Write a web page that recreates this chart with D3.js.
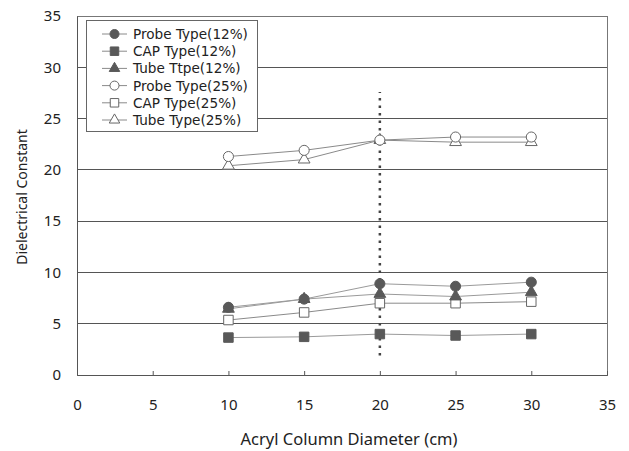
<!DOCTYPE html>
<html>
<head>
<script src="https://d3js.org/d3.v7.min.js"></script>
<style>
  body { margin: 0; background: #fff; }
  text { font-family: "Noto Sans", "DejaVu Sans", sans-serif; fill: #222; }
</style>
</head>
<body>
<div id="chart"></div>
<script>
var diameters = [10, 15, 20, 25, 30];
var seriesNames = ["Probe Type(12%)", "CAP Type(12%)", "Tube Ttpe(12%)",
                   "Probe Type(25%)", "CAP Type(25%)", "Tube Type(25%)"];
var probe12 = [6.6, 7.4, 8.9, 8.65, 9.05];
var cap12   = [3.65, 3.72, 3.99, 3.85, 3.99];
var tube12  = [6.45, 7.4, 7.9, 7.65, 8.07];
var probe25 = [21.3, 21.9, 22.9, 23.2, 23.2];
var cap25   = [5.36, 6.1, 7.0, 7.0, 7.15];
var tube25  = [20.4, 21.0, 22.9, 22.7, 22.7];
var xTicks = [0, 5, 10, 15, 20, 25, 30, 35];
var yTicks = [0, 5, 10, 15, 20, 25, 30, 35];
var markerLine = { x: 20, from: 1.9, to: 27.6 };

var width = 629, height = 451;
var margin = { left: 77, right: 22, top: 16, bottom: 76 };

var svg = d3.select("#chart").append("svg")
  .attr("width", width).attr("height", height);

var x = d3.scaleLinear().domain([0, 35]).range([margin.left, width - margin.right]);
var y = d3.scaleLinear().domain([0, 35]).range([height - margin.bottom, margin.top]);

// gridlines
svg.append("g").selectAll("line").data(yTicks).enter().append("line")
  .attr("x1", x(0)).attr("x2", x(35))
  .attr("y1", function (d) { return y(d); }).attr("y2", function (d) { return y(d); })
  .attr("stroke", "#555").attr("stroke-width", 1)
  .attr("shape-rendering", "crispEdges");

// frame
svg.append("rect")
  .attr("x", x(0)).attr("y", y(35))
  .attr("width", x(35) - x(0)).attr("height", y(0) - y(35))
  .attr("fill", "none").attr("stroke", "#777")
  .attr("shape-rendering", "crispEdges");

// x axis
var xAxis = svg.append("g")
  .attr("transform", "translate(0," + y(0) + ")")
  .call(d3.axisBottom(x).tickValues(xTicks).tickSizeInner(-4).tickSizeOuter(0).tickPadding(24));
xAxis.select(".domain").attr("stroke", "#555");
xAxis.selectAll(".tick line").attr("stroke", "#555");
xAxis.selectAll("text").style("font-size", "15px").attr("fill", "#222");

// y axis
var yAxis = svg.append("g")
  .attr("transform", "translate(" + x(0) + ",0)")
  .call(d3.axisLeft(y).tickValues(yTicks).tickSize(0).tickPadding(16));
yAxis.select(".domain").attr("stroke", "#555");
yAxis.selectAll("text").style("font-size", "15px").attr("fill", "#222");

svg.append("text")
  .attr("x", (x(0) + x(35)) / 2 + 7).attr("y", 445)
  .attr("text-anchor", "middle").style("font-size", "16.5px")
  .text("Acryl Column Diameter (cm)");

svg.append("text")
  .attr("transform", "translate(27,197) rotate(-90)")
  .attr("text-anchor", "middle").style("font-size", "14px")
  .text("Dielectrical Constant");

// dotted vertical line
svg.append("line")
  .attr("x1", x(markerLine.x)).attr("x2", x(markerLine.x))
  .attr("y1", y(markerLine.from)).attr("y2", y(markerLine.to))
  .attr("stroke", "#444").attr("stroke-width", 2.5)
  .attr("stroke-dasharray", "2.5,5");

var dark = "#595959";
var series = [
  { name: seriesNames[0], values: probe12, shape: d3.symbolCircle, filled: true },
  { name: seriesNames[1], values: cap12, shape: d3.symbolSquare, filled: true },
  { name: seriesNames[2], values: tube12, shape: d3.symbolTriangle, filled: true },
  { name: seriesNames[3], values: probe25, shape: d3.symbolCircle, filled: false },
  { name: seriesNames[4], values: cap25, shape: d3.symbolSquare, filled: false },
  { name: seriesNames[5], values: tube25, shape: d3.symbolTriangle, filled: false }
];

function symSize(s) {
  if (s.shape === d3.symbolCircle) return 80;
  if (s.shape === d3.symbolSquare) return 90;
  return 60;
}

var line = d3.line()
  .x(function (d, i) { return x(diameters[i]); })
  .y(function (d) { return y(d); });

// draw open series first, then filled ones on top
var order = [5, 4, 3, 2, 1, 0];
order.forEach(function (k) {
  var s = series[k];
  var g = svg.append("g");
  g.append("path").datum(s.values)
    .attr("d", line).attr("fill", "none")
    .attr("stroke", s.filled ? "#9a9a9a" : "#8a8a8a").attr("stroke-width", 1);
  g.selectAll("path.pt").data(s.values).enter().append("path")
    .attr("class", "pt")
    .attr("transform", function (d, i) { return "translate(" + x(diameters[i]) + "," + y(d) + ")"; })
    .attr("d", d3.symbol().type(s.shape).size(symSize(s)))
    .attr("fill", s.filled ? dark : "#fff")
    .attr("stroke", s.filled ? dark : "#666")
    .attr("stroke-width", 1);
});

// legend
var leg = svg.append("g").attr("transform", "translate(86,20)");
leg.append("rect").attr("x", 0).attr("y", 0).attr("width", 171).attr("height", 111)
  .attr("fill", "#fff").attr("stroke", "#666").attr("shape-rendering", "crispEdges");
var items = leg.selectAll("g.item").data(series).enter().append("g")
  .attr("transform", function (d, i) { return "translate(0," + (14 + i * 17.2) + ")"; });
items.append("line").attr("x1", 16).attr("x2", 41).attr("y1", 0).attr("y2", 0)
  .attr("stroke", "#8a8a8a");
items.append("path")
  .attr("transform", "translate(28.5,0)")
  .attr("d", function (s) { return d3.symbol().type(s.shape).size(symSize(s) * 0.8)(); })
  .attr("fill", function (s) { return s.filled ? dark : "#fff"; })
  .attr("stroke", function (s) { return s.filled ? dark : "#666"; });
items.append("text").attr("x", 47).attr("y", 5)
  .style("font-family", "'DejaVu Sans', sans-serif")
  .style("font-size", "13.6px")
  .text(function (s) { return s.name; });
</script>
</body>
</html>
